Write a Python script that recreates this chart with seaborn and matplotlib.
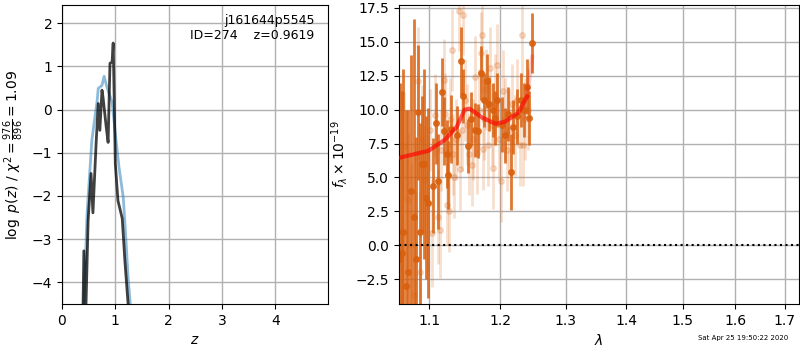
import numpy as np
import pandas as pd
import matplotlib
matplotlib.use("Agg")
import matplotlib.pyplot as plt
import seaborn as sns
from matplotlib.ticker import ScalarFormatter, NullLocator, FixedLocator

# p(z) curves
z_blue = [0.41, 0.47, 0.56, 0.66, 0.68, 0.75, 0.79, 0.85, 0.94, 1.00, 1.07, 1.15, 1.20, 1.24, 1.28]
lnp_blue = [-4.52, -2.41, -0.71, 0.21, 0.49, 0.56, 0.77, 0.49, 0.17, -0.55, -1.34, -2.04, -3.03, -3.89, -4.50]

z_black = [0.395, 0.41, 0.45, 0.49, 0.545, 0.58, 0.64, 0.68, 0.71, 0.75, 0.77, 0.83, 0.865,
           0.90, 0.94, 0.96, 0.98, 1.00, 1.05, 1.13, 1.18, 1.24]
lnp_black = [-4.52, -3.27, -4.52, -2.57, -1.48, -2.39, -0.78, 0.14, -0.48, 0.45, 0.28, -0.41, -0.76,
             1.07, 1.10, 1.54, 0.21, -1.25, -2.11, -2.52, -3.50, -4.50]

# spectrum, binned (dark) points
wave_bin = [1.062, 1.064, 1.066, 1.070, 1.072, 1.076, 1.080, 1.083, 1.085, 1.088, 1.091, 1.093,
            1.096, 1.099, 1.105, 1.109, 1.112, 1.117, 1.120, 1.1245, 1.126, 1.130, 1.138, 1.144,
            1.146, 1.154, 1.158, 1.1637, 1.168, 1.1723, 1.1766, 1.181, 1.184, 1.190, 1.193, 1.196,
            1.203, 1.207, 1.212, 1.216, 1.219, 1.225, 1.231, 1.235, 1.240, 1.243, 1.248]
flux_bin = [-1.0, -0.6, 1.0, -3.0, -2.0, 4.0, 2.1, -1.0, 9.8, 1.0, 6.0, 6.0,
            3.5, 3.1, 4.4, 9.0, 4.7, 11.3, 8.4, 6.7, 5.2, 8.6, 8.1, 13.6,
            11.0, 7.3, 9.3, 8.5, 8.4, 12.7, 10.7, 12.1, 10.4, 10.0, 9.4, 10.7,
            8.9, 8.1, 9.7, 5.4, 8.7, 9.5, 10.7, 10.0, 11.7, 9.4, 14.9]
err_bin = [13, 12, 12, 13, 12, 10, 14.6, 9, 5, 8, 5, 7,
           6, 7, 3.5, 3, 3.5, 2.5, 2.5, 2.5, 2.5, 2.5, 2.2, 2.5,
           2, 2, 2, 2, 2, 2, 2, 2, 2, 2, 2, 2,
           2, 2, 2, 2.8, 2, 2, 2, 2, 2, 2, 2.2]

# spectrum, unbinned (light) points
wave_raw = [1.0668, 1.0721, 1.0760, 1.0800, 1.0827, 1.0853, 1.0879, 1.0906, 1.0933, 1.0986,
            1.1013, 1.1041, 1.1081, 1.1122, 1.1149, 1.1163, 1.1204, 1.1210, 1.1245, 1.1272,
            1.1286, 1.1314, 1.1328, 1.1342, 1.1370, 1.1411, 1.1425, 1.1453, 1.1467, 1.1496,
            1.1524, 1.1552, 1.1594, 1.1609, 1.1637, 1.1666, 1.1694, 1.1723, 1.1737, 1.1745,
            1.1766, 1.1795, 1.1824, 1.1853, 1.1883, 1.1897, 1.1926, 1.1956, 1.1985, 1.2015,
            1.2044, 1.2074, 1.2103, 1.2133, 1.2178, 1.2223, 1.2253, 1.2298, 1.2328, 1.2336,
            1.2374, 1.2420]
flux_raw = [7.3, 3.3, 0.0, -3.7, -1.0, 12.1, -2.0, 7.8, 4.8, 3.1,
            8.5, 0.9, 9.6, 2.1, 1.1, 7.0, 12.2, 9.7, 3.0, 2.5,
            9.3, 14.4, 6.7, 5.0, 7.8, 17.3, 5.6, 8.5, 17.0, 10.7,
            8.9, 6.7, 5.9, 7.8, 12.4, 6.8, 10.0, 14.2, 15.5, 7.1,
            9.3, 11.5, 7.4, 13.1, 8.9, 5.7, 11.1, 13.3, 7.8, 4.7,
            11.4, 9.3, 7.0, 8.5, 10.4, 8.1, 10.7, 7.4, 15.5, 7.4,
            9.3, 10.0]
err_raw = [4, 5, 6, 6, 5, 4, 6, 4, 4, 5,
           3, 4, 3, 3.5, 3.5, 3, 3, 3, 3, 3,
           3, 3, 3, 3, 3, 3, 3, 3, 3, 3,
           3, 3, 3, 3, 3, 3, 3, 3, 3, 3,
           3, 3, 3, 3, 3, 3, 3, 3, 3, 3,
           3, 3, 3, 3, 3, 3, 3, 3, 3, 3,
           3, 3]

# model
wave_mod = [1.060, 1.099, 1.1216, 1.138, 1.149, 1.156, 1.174, 1.193, 1.207, 1.227, 1.240]
flux_mod = [6.44, 6.96, 7.78, 8.74, 10.0, 10.07, 9.41, 8.96, 9.11, 9.78, 10.96]
wave_tail = [1.240, 1.248]
flux_tail = [10.96, 13.9]

plt.rcParams['font.family'] = ['DejaVu Sans']
plt.rcParams['mathtext.fontset'] = 'dejavusans'

fig = plt.figure(figsize=(8, 3.5), dpi=100)
ax1 = fig.add_axes([0.0775, 0.1314, 0.3325, 0.8543])
ax2 = fig.add_axes([0.49875, 0.1314, 0.5, 0.8543])

# ---- left: p(z)
sns.lineplot(x=z_blue, y=lnp_blue, ax=ax1, color='tab:blue', alpha=0.5, lw=2, estimator=None, sort=False)
sns.lineplot(x=z_black, y=lnp_black, ax=ax1, color='k', alpha=0.75, lw=2, estimator=None, sort=False)
ax1.set_xlim(0, 4.99)
ax1.set_ylim(-4.5, 2.42)
ax1.set_xticks([0, 1, 2, 3, 4])
ax1.set_yticks([-4, -3, -2, -1, 0, 1, 2])
ax1.grid(True, color='#b0b0b0', lw=1)
ax1.set_axisbelow(True)
ax1.set_xlabel('$z$')
ax1.set_ylabel(r'$\log\ p(z)$ / $\chi^2=\frac{976}{896}=1.09$')
ax1.text(0.95, 0.97, 'j161644p5545\nID=274    z=0.9619', transform=ax1.transAxes,
         ha='right', va='top', fontsize=9)

# ---- right: spectrum
orange = '#d9600e'
ax2.errorbar(wave_raw, flux_raw, yerr=err_raw, fmt='o', color=orange, alpha=0.2,
             ms=4, lw=2, zorder=1)
ax2.errorbar(wave_bin, flux_bin, yerr=err_bin, fmt='o', color=orange, alpha=0.85,
             ms=4, lw=2, zorder=2)
sns.lineplot(x=wave_mod, y=flux_mod, ax=ax2, color='r', alpha=0.65, lw=3, estimator=None, zorder=3)
sns.lineplot(x=wave_tail, y=flux_tail, ax=ax2, color='r', alpha=0.2, lw=3, estimator=None, zorder=3)
ax2.axhline(0, color='k', ls=':', lw=1.5, zorder=4)

ax2.set_xscale('log')
ax2.xaxis.set_major_locator(FixedLocator([1.1, 1.2, 1.3, 1.4, 1.5, 1.6, 1.7]))
ax2.xaxis.set_major_formatter(ScalarFormatter())
ax2.xaxis.set_minor_locator(NullLocator())
ax2.set_xlim(1.0603, 1.7295)
ax2.set_ylim(-4.34, 17.72)
ax2.set_yticks([-2.5, 0, 2.5, 5, 7.5, 10, 12.5, 15, 17.5])
ax2.grid(True, color='#b0b0b0', lw=1)
ax2.set_axisbelow(True)
ax2.set_xlabel(r'$\lambda$')
ax2.set_ylabel(r'$f_\lambda\times10^{-19}$')

fig.text(0.985, 0.025, 'Sat Apr 25 19:50:22 2020', ha='right', va='bottom', fontsize=5)

fig.savefig('out.png', dpi=100)
